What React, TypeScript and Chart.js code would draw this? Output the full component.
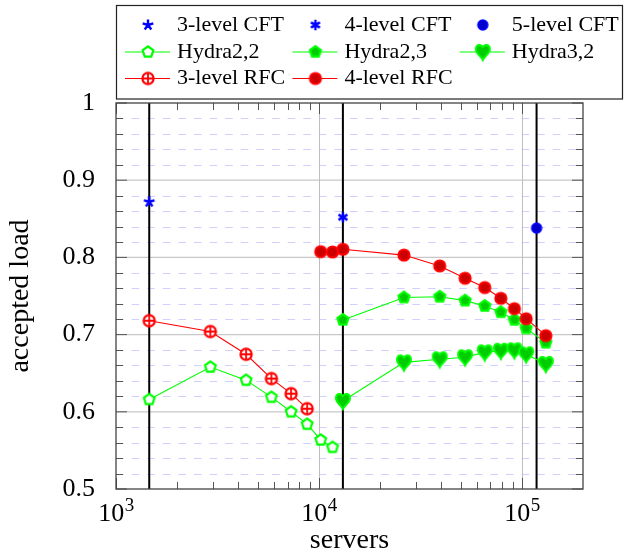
import React, { useEffect, useRef } from "react";
import { Chart, registerables } from "chart.js";

Chart.register(...registerables);

// ---------- data ----------
const cftLabels = ["3-level CFT", "4-level CFT", "5-level CFT"];
const cftServers = [1458, 13122, 118098];
const cftLoad = [0.872, 0.852, 0.838];

const hydra22Servers = [1458, 2916, 4374, 5832, 7290, 8748, 10206, 11664];
const hydra22Load = [0.616, 0.658, 0.641, 0.619, 0.6, 0.584, 0.5635, 0.554];

const hydra23Servers = [13122, 26244, 39366, 52488, 65610, 78732, 91854, 104976, 131220];
const hydra23Load = [0.719, 0.748, 0.749, 0.744, 0.737, 0.729, 0.719, 0.708, 0.6895];

const hydra32Servers = [13122, 26244, 39366, 52488, 65610, 78732, 91854, 104976, 131220];
const hydra32Load = [0.614, 0.664, 0.668, 0.6706, 0.677, 0.679, 0.6797, 0.6745, 0.662];

const rfc3Servers = [1458, 2916, 4374, 5832, 7290, 8748];
const rfc3Load = [0.718, 0.704, 0.6745, 0.643, 0.6235, 0.604];

const rfc4Servers = [10206, 11664, 13122, 26244, 39366, 52488, 65610, 78732, 91854, 104976, 131220];
const rfc4Load = [0.8074, 0.807, 0.8105, 0.803, 0.789, 0.773, 0.761, 0.747, 0.7336, 0.7206, 0.6986];

const xTickValues = [1000, 10000, 100000];
const xTickExponents = ["3", "4", "5"];
const yTickValues = [0.5, 0.6, 0.7, 0.8, 0.9, 1];
const yTickLabels = ["0.5", "0.6", "0.7", "0.8", "0.9", "1"];

const xMin = 1000;
const xMax = 200000;

// ---------- styles ----------
const FONT = "'Liberation Serif', 'Times New Roman', serif";
const BLUE = "rgb(0,0,255)";
const BLUE_FILL = "rgb(0,0,204)";
const GREEN = "rgb(0,255,0)";
const GREEN_FILL = "rgb(0,204,0)";
const RED = "rgb(255,0,0)";
const RED_FILL = "rgb(204,0,0)";

function makeMarker(draw: (ctx: CanvasRenderingContext2D) => void, size = 26) {
  const c = document.createElement("canvas");
  c.width = size;
  c.height = size;
  const ctx = c.getContext("2d") as CanvasRenderingContext2D;
  ctx.translate(size / 2, size / 2);
  draw(ctx);
  return c;
}

function pentagonPath(ctx: CanvasRenderingContext2D, r: number) {
  ctx.beginPath();
  for (let k = 0; k < 5; k++) {
    const a = -Math.PI / 2 + (k * 2 * Math.PI) / 5;
    const px = r * Math.cos(a);
    const py = r * Math.sin(a);
    if (k === 0) ctx.moveTo(px, py);
    else ctx.lineTo(px, py);
  }
  ctx.closePath();
}

function buildMarkers() {
  const star = makeMarker((ctx) => {
    ctx.strokeStyle = BLUE;
    ctx.lineWidth = 2.4;
    ctx.beginPath();
    for (let k = 0; k < 5; k++) {
      const a = -Math.PI / 2 + (k * 2 * Math.PI) / 5;
      ctx.moveTo(0, 0);
      ctx.lineTo(5.6 * Math.cos(a), 5.6 * Math.sin(a));
    }
    ctx.stroke();
  });
  const asterisk = makeMarker((ctx) => {
    ctx.strokeStyle = BLUE;
    ctx.lineWidth = 2.4;
    ctx.beginPath();
    for (let k = 0; k < 3; k++) {
      const a = Math.PI / 2 + (k * Math.PI) / 3;
      ctx.moveTo(-5.2 * Math.cos(a), -5.2 * Math.sin(a));
      ctx.lineTo(5.2 * Math.cos(a), 5.2 * Math.sin(a));
    }
    ctx.stroke();
  });
  const blueDot = makeMarker((ctx) => {
    ctx.beginPath();
    ctx.arc(0, 0, 5, 0, Math.PI * 2);
    ctx.fillStyle = BLUE_FILL;
    ctx.fill();
    ctx.strokeStyle = BLUE;
    ctx.lineWidth = 1.4;
    ctx.stroke();
  });
  const openPentagon = makeMarker((ctx) => {
    pentagonPath(ctx, 5.6);
    ctx.fillStyle = "#ffffff";
    ctx.fill();
    ctx.strokeStyle = GREEN;
    ctx.lineWidth = 2.2;
    ctx.stroke();
  });
  const filledPentagon = makeMarker((ctx) => {
    pentagonPath(ctx, 5.8);
    ctx.fillStyle = GREEN_FILL;
    ctx.fill();
    ctx.strokeStyle = GREEN;
    ctx.lineWidth = 2.2;
    ctx.stroke();
  });
  const heart = makeMarker((ctx) => {
    ctx.beginPath();
    ctx.moveTo(0, 8);
    ctx.bezierCurveTo(-1.5, 4.5, -7, 1.5, -7, -2.5);
    ctx.bezierCurveTo(-7, -5.5, -5.2, -7, -3.5, -7);
    ctx.bezierCurveTo(-1.6, -7, 0, -5.6, 0, -4);
    ctx.bezierCurveTo(0, -5.6, 1.6, -7, 3.5, -7);
    ctx.bezierCurveTo(5.2, -7, 7, -5.5, 7, -2.5);
    ctx.bezierCurveTo(7, 1.5, 1.5, 4.5, 0, 8);
    ctx.closePath();
    ctx.fillStyle = GREEN_FILL;
    ctx.fill();
    ctx.strokeStyle = GREEN;
    ctx.lineWidth = 2;
    ctx.stroke();
  });
  const oplus = makeMarker((ctx) => {
    const r = 5.6;
    ctx.beginPath();
    ctx.arc(0, 0, r, 0, Math.PI * 2);
    ctx.fillStyle = "#ffffff";
    ctx.fill();
    ctx.strokeStyle = RED;
    ctx.lineWidth = 2.2;
    ctx.stroke();
    ctx.beginPath();
    ctx.moveTo(-r, 0);
    ctx.lineTo(r, 0);
    ctx.moveTo(0, -r);
    ctx.lineTo(0, r);
    ctx.lineWidth = 1.8;
    ctx.stroke();
  });
  const redDot = makeMarker((ctx) => {
    ctx.beginPath();
    ctx.arc(0, 0, 5.6, 0, Math.PI * 2);
    ctx.fillStyle = RED_FILL;
    ctx.fill();
    ctx.strokeStyle = RED;
    ctx.lineWidth = 2;
    ctx.stroke();
  });
  return { star, asterisk, blueDot, openPentagon, filledPentagon, heart, oplus, redDot };
}

function pts(xs: number[], ys: number[]) {
  return xs.map((x, i) => ({ x, y: ys[i] }));
}

export default function App() {
  const canvasRef = useRef<HTMLCanvasElement | null>(null);

  useEffect(() => {
    const canvas = canvasRef.current;
    if (!canvas) return;
    const m = buildMarkers();

    const series = [
      { label: cftLabels[0], data: pts([cftServers[0]], [cftLoad[0]]), marker: m.star, color: BLUE, line: false },
      { label: cftLabels[1], data: pts([cftServers[1]], [cftLoad[1]]), marker: m.asterisk, color: BLUE, line: false },
      { label: cftLabels[2], data: pts([cftServers[2]], [cftLoad[2]]), marker: m.blueDot, color: BLUE, line: false },
      { label: "Hydra2,2", data: pts(hydra22Servers, hydra22Load), marker: m.openPentagon, color: GREEN, line: true },
      { label: "Hydra2,3", data: pts(hydra23Servers, hydra23Load), marker: m.filledPentagon, color: GREEN, line: true },
      { label: "Hydra3,2", data: pts(hydra32Servers, hydra32Load), marker: m.heart, color: GREEN, line: true },
      { label: "3-level RFC", data: pts(rfc3Servers, rfc3Load), marker: m.oplus, color: RED, line: true },
      { label: "4-level RFC", data: pts(rfc4Servers, rfc4Load), marker: m.redDot, color: RED, line: true },
    ];

    const n = series.length;
    const datasets = series.map((s, i) => ({
      label: s.label,
      data: s.data,
      showLine: s.line,
      borderColor: s.color,
      backgroundColor: s.color,
      borderWidth: 1.1,
      pointStyle: s.marker,
      pointRadius: 6,
      pointHoverRadius: 6,
      order: n - i,
    }));

    const line = (ctx: CanvasRenderingContext2D, x1: number, y1: number, x2: number, y2: number) => {
      ctx.beginPath();
      ctx.moveTo(x1, y1);
      ctx.lineTo(x2, y2);
      ctx.stroke();
    };

    const framePlugin = {
      id: "framePlugin",
      beforeDatasetsDraw(chart: any) {
        const { ctx, chartArea: a } = chart;
        const xs = chart.scales.x;
        const ys = chart.scales.y;
        ctx.save();
        // minor dashed horizontal grid
        ctx.strokeStyle = "rgb(208,208,255)";
        ctx.lineWidth = 1;
        ctx.setLineDash([7.6, 8]);
        const yMinor: number[] = [];
        for (let i = 1; i < 25; i++) {
          if (i % 5 !== 0) yMinor.push(0.5 + i * 0.02);
        }
        for (const v of yMinor) {
          const py = Math.round(ys.getPixelForValue(v)) + 0.5;
          line(ctx, a.left, py, a.right, py);
        }
        ctx.setLineDash([]);
        // major grid
        ctx.strokeStyle = "rgb(200,200,200)";
        ctx.lineWidth = 1.3;
        for (const v of yTickValues.slice(1, -1)) {
          const py = ys.getPixelForValue(v);
          line(ctx, a.left, py, a.right, py);
        }
        ctx.strokeStyle = "rgb(190,190,190)";
        ctx.lineWidth = 1;
        for (const v of xTickValues.slice(1)) {
          const px = Math.round(xs.getPixelForValue(v)) + 0.5;
          line(ctx, px, a.top, px, a.bottom);
        }
        // CFT vertical lines
        ctx.strokeStyle = "#000000";
        ctx.lineWidth = 2;
        for (const v of cftServers) {
          const px = xs.getPixelForValue(v);
          line(ctx, px, a.top, px, a.bottom);
        }
        // ticks
        ctx.strokeStyle = "#555555";
        ctx.lineWidth = 1;
        for (const v of yMinor) {
          const py = Math.round(ys.getPixelForValue(v)) + 0.5;
          line(ctx, a.left, py, a.left + 7, py);
          line(ctx, a.right, py, a.right - 7, py);
        }
        for (const v of yTickValues) {
          const py = ys.getPixelForValue(v);
          line(ctx, a.left, py, a.left + 11, py);
          line(ctx, a.right, py, a.right - 11, py);
        }
        for (const d of xTickValues) {
          for (let k = 2; k <= 9; k++) {
            const v = d * k;
            if (v >= xMax) continue;
            const px = Math.round(xs.getPixelForValue(v)) + 0.5;
            line(ctx, px, a.top, px, a.top + 7);
            line(ctx, px, a.bottom, px, a.bottom - 7);
          }
          const px = Math.round(xs.getPixelForValue(d)) + 0.5;
          line(ctx, px, a.top, px, a.top + 11);
          line(ctx, px, a.bottom, px, a.bottom - 11);
        }
        // frame
        ctx.strokeStyle = "#444444";
        ctx.lineWidth = 1.3;
        ctx.strokeRect(a.left, a.top, a.right - a.left, a.bottom - a.top);
        ctx.restore();
      },
      afterDraw(chart: any) {
        const { ctx, chartArea: a } = chart;
        const xs = chart.scales.x;
        ctx.save();
        // x tick labels 10^k
        ctx.fillStyle = "#000000";
        ctx.textBaseline = "alphabetic";
        ctx.textAlign = "left";
        xTickValues.forEach((v, i) => {
          const px = xs.getPixelForValue(v);
          ctx.font = `26px ${FONT}`;
          const wBase = ctx.measureText("10").width;
          ctx.font = `19px ${FONT}`;
          const wExp = ctx.measureText(xTickExponents[i]).width;
          const start = px - (wBase + wExp) / 2;
          ctx.font = `26px ${FONT}`;
          ctx.fillText("10", start, a.bottom + 32);
          ctx.font = `19px ${FONT}`;
          ctx.fillText(xTickExponents[i], start + wBase + 0.5, a.bottom + 22);
        });
        // legend box
        ctx.fillStyle = "#ffffff";
        ctx.fillRect(116, 5.5, 506.5, 93.5);
        ctx.strokeStyle = "#222222";
        ctx.lineWidth = 1.2;
        ctx.strokeRect(116.5, 5.5, 506, 93.5);
        const rowsY = [25, 52, 78.5];
        ctx.font = `22px ${FONT}`;
        ctx.textBaseline = "middle";
        ctx.textAlign = "left";
        series.forEach((s, i) => {
          const col = i % 3;
          const row = Math.floor(i / 3);
          const x0 = 125 + 167.4 * col;
          const y0 = rowsY[row];
          if (s.line) {
            ctx.strokeStyle = s.color;
            ctx.lineWidth = 1.1;
            line(ctx, x0, y0, x0 + 45, y0);
          }
          const mk = s.marker as HTMLCanvasElement;
          ctx.drawImage(mk, x0 + 23 - mk.width / 2, y0 - mk.height / 2);
          ctx.fillStyle = "#000000";
          ctx.fillText(s.label, x0 + 52, y0);
        });
        ctx.restore();
      },
    };

    const chart = new Chart(canvas, {
      type: "scatter",
      data: { datasets: datasets as any },
      options: {
        animation: false,
        responsive: false,
        devicePixelRatio: 1,
        layout: { padding: { left: 0, right: 41, top: 103, bottom: 0 } },
        plugins: {
          legend: { display: false },
          tooltip: { enabled: false },
        },
        scales: {
          x: {
            type: "logarithmic",
            min: xMin,
            max: xMax,
            grid: { display: false },
            border: { display: false },
            ticks: { display: false },
            afterFit: (scale: any) => {
              scale.height = 67;
            },
            title: {
              display: true,
              text: "servers",
              color: "#000000",
              font: { family: FONT, size: 28 },
              padding: { top: 0, bottom: -1 },
            },
          },
          y: {
            type: "linear",
            min: 0.5,
            max: 1,
            grid: { display: false },
            border: { display: false },
            afterBuildTicks: (scale: any) => {
              scale.ticks = yTickValues.map((v) => ({ value: v }));
            },
            afterFit: (scale: any) => {
              scale.width = 116;
            },
            ticks: {
              color: "#000000",
              padding: 13,
              font: { family: FONT, size: 26 },
              callback: (_v: any, idx: number) => yTickLabels[idx],
            },
            title: {
              display: true,
              text: "accepted load",
              color: "#000000",
              font: { family: FONT, size: 28 },
              padding: { top: 4, bottom: 0 },
            },
          },
        },
      },
      plugins: [framePlugin],
    });

    return () => {
      chart.destroy();
    };
  }, []);

  return (
    <div style={{ position: "absolute", left: 0, top: 0, width: 624, height: 556, background: "#ffffff" }}>
      <canvas ref={canvasRef} width={624} height={556} style={{ display: "block" }} />
    </div>
  );
}
